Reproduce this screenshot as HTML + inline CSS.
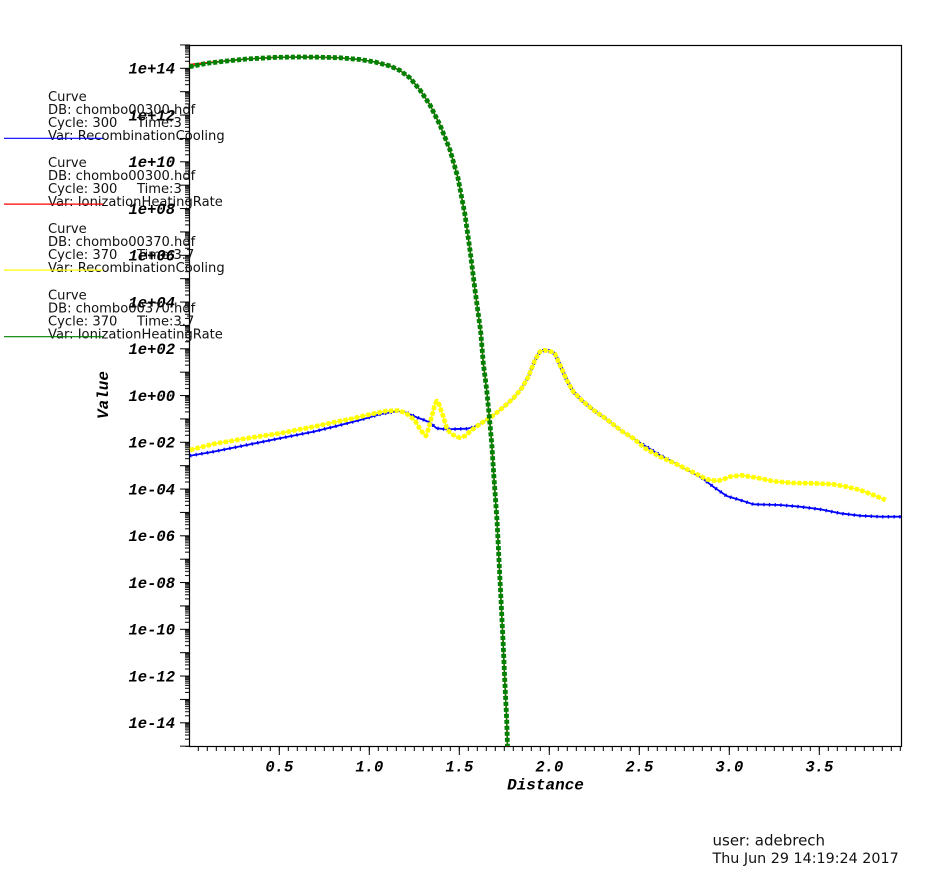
<!DOCTYPE html>
<html>
<head>
<meta charset="utf-8">
<style>
html,body{margin:0;padding:0;background:#fff;}
body{width:950px;height:878px;overflow:hidden;}
svg{display:block;}
.mono{font-family:"Liberation Mono","Courier New",monospace;font-weight:bold;font-style:italic;font-size:15.5px;fill:#000;}
.leg{font-family:"DejaVu Sans","Liberation Sans",sans-serif;font-size:13.1px;fill:#111;}
.info{font-family:"DejaVu Sans","Liberation Sans",sans-serif;font-size:14.3px;fill:#111;}
</style>
</head>
<body>
<svg width="950" height="878" viewBox="0 0 950 878" xmlns="http://www.w3.org/2000/svg">
<defs>
  <clipPath id="plot"><rect x="189.5" y="45.5" width="712" height="701"/></clipPath>
  <pattern id="yt" x="180" y="43.925" width="10" height="23.375" patternUnits="userSpaceOnUse">
    <rect x="0" y="0.5" width="10" height="1" fill="#000"/>
    <rect x="5" y="16.838" width="5" height="1" fill="#000"/>
    <rect x="5" y="12.722" width="5" height="1" fill="#000"/>
    <rect x="5" y="9.802" width="5" height="1" fill="#000"/>
    <rect x="5" y="7.537" width="5" height="1" fill="#000"/>
    <rect x="5" y="5.686" width="5" height="1" fill="#000"/>
    <rect x="5" y="4.120" width="5" height="1" fill="#000"/>
    <rect x="5" y="2.765" width="5" height="1" fill="#000"/>
    <rect x="5" y="1.570" width="5" height="1" fill="#000"/>
  </pattern>
  <pattern id="xtm" x="188.8" y="746" width="9" height="12" patternUnits="userSpaceOnUse">
    <rect x="0" y="0" width="1" height="5" fill="#000"/>
  </pattern>
  <pattern id="xtM" x="188.8" y="746" width="90" height="12" patternUnits="userSpaceOnUse">
    <rect x="0" y="0" width="1" height="9" fill="#000"/>
  </pattern>
</defs>

<!-- ticks -->
<rect x="180" y="44.4" width="10" height="702.5" fill="url(#yt)"/>
<rect x="192" y="746" width="710" height="12" fill="url(#xtm)"/>
<rect x="192" y="746" width="710" height="12" fill="url(#xtM)"/>

<!-- frame -->
<rect x="189.5" y="45.5" width="712" height="701" fill="none" stroke="#000" stroke-width="1.2"/>

<!-- Y labels -->
<g class="mono" text-anchor="end">
  <text x="175" y="73.6">1e+14</text>
  <text x="175" y="120.35">1e+12</text>
  <text x="175" y="167.1">1e+10</text>
  <text x="175" y="213.85">1e+08</text>
  <text x="175" y="260.6">1e+06</text>
  <text x="175" y="307.35">1e+04</text>
  <text x="175" y="354.1">1e+02</text>
  <text x="175" y="400.85">1e+00</text>
  <text x="175" y="447.6">1e-02</text>
  <text x="175" y="494.35">1e-04</text>
  <text x="175" y="541.1">1e-06</text>
  <text x="175" y="587.85">1e-08</text>
  <text x="175" y="634.6">1e-10</text>
  <text x="175" y="681.35">1e-12</text>
  <text x="175" y="728.1">1e-14</text>
</g>
<!-- X labels -->
<g class="mono" text-anchor="middle">
  <text x="279.3" y="771.5">0.5</text>
  <text x="369.3" y="771.5">1.0</text>
  <text x="459.3" y="771.5">1.5</text>
  <text x="549.3" y="771.5">2.0</text>
  <text x="639.3" y="771.5">2.5</text>
  <text x="729.3" y="771.5">3.0</text>
  <text x="819.3" y="771.5">3.5</text>
  <text x="545.5" y="789.5" style="font-size:16px">Distance</text>
  <text transform="translate(108,395) rotate(-90)" x="0" y="0" style="font-size:16px">Value</text>
</g>

<!-- curves -->
<g clip-path="url(#plot)" fill="none" stroke-linejoin="round">
  <!-- blue: RecombinationCooling 300 -->
  <polyline stroke="#0000ff" stroke-width="1.8" points="190,455.7 213.3,451.7 246.7,445 280,438.3 313.3,431.7 336.7,426 360,420 380,414.3 398,411 406.7,412.7 416.7,417.3 424,420 430,422.7 436.7,428.3 446.7,429.3 466.7,428.7 473.3,427.3 480,424 491.7,416.7 503.3,407.3 513.3,398.3 521.7,388.3 528.3,376.7 535,360 540,351.7 544,350.3 548.3,350.7 552,352 555,354 560,365 566.7,380 573.3,391.7 583.3,401.7 593.3,410 606.7,419.3 621.7,431 640,442.7 660,455 678.3,465 700,476.7 713.3,486.7 726.7,496 740,500 753.3,504.3 780,505 800,506.7 820,509.3 840,513.3 860,515.7 880,516.7 901,516.7"/>
  <polyline stroke="#0000ff" stroke-width="3.5" stroke-dasharray="1.3 4.4" points="190,455.7 213.3,451.7 246.7,445 280,438.3 313.3,431.7 336.7,426 360,420 380,414.3 398,411 406.7,412.7 416.7,417.3 424,420 430,422.7 436.7,428.3 446.7,429.3 466.7,428.7 473.3,427.3 480,424 491.7,416.7 503.3,407.3 513.3,398.3 521.7,388.3 528.3,376.7 535,360 540,351.7 544,350.3 548.3,350.7 552,352 555,354 560,365 566.7,380 573.3,391.7 583.3,401.7 593.3,410 606.7,419.3 621.7,431 640,442.7 660,455 678.3,465 700,476.7 713.3,486.7 726.7,496 740,500 753.3,504.3 780,505 800,506.7 820,509.3 840,513.3 860,515.7 880,516.7 901,516.7"/>

  <!-- red: IonizationHeatingRate 300 -->
  <polyline stroke="#ff0000" stroke-width="1.6" points="189.5,64.5 206.7,62.8 226.7,60.8 246.7,59 276.7,57.3 300,57 320,57.2 340,57.8 360,59.5 375,62 390,66 400,70.5 410,78 420,90 430,105 440,125 450,150 458,178 465,215 470,250 475,290 480.7,331.7 483.3,363.3 486.7,390 489.3,416.7 491.7,443.3 494,478.3 497,520 499,560 501,600 503,640 505,685 506.7,720 507.5,750"/>

  <!-- yellow: RecombinationCooling 370 -->
  <polyline stroke="#ffff00" stroke-width="1.6" points="190,450 213.3,444 246.7,438.3 280,433.3 313.3,426.7 336.7,421.7 353,418.5 363,416 375,413.3 386.7,411 398.3,410.5 405,412.7 410,416 415,420.7 420,429 424,434.5 426,436 428.3,429.3 431.7,416.7 434.5,406 436.7,401 439,404 441,410 443.3,416.7 446.7,428.3 450,432.5 453.3,435 459.3,437.7 465,436 471.7,430 480,424 491.7,416.7 503.3,407.3 513.3,398.3 521.7,388.3 528.3,376.7 535,360 540,351.7 544,350.3 548.3,350.7 552,352 555,354 560,365 566.7,380 573.3,391.7 583.3,401.7 593.3,410 606.7,419.3 621.7,431 633.3,438.3 645,448.3 660,456.7 678.3,465 695,473.3 706.7,479.3 716.7,481 723,479.5 730,476.7 741.7,475.3 756.7,477.7 773.3,481.3 793.3,483 813.3,483.3 833.3,484.3 846.7,486.7 860,490 873.3,495 885.7,500"/>
  <polyline stroke="#ffff00" stroke-width="4.6" stroke-dasharray="4 1.8" points="190,450 213.3,444 246.7,438.3 280,433.3 313.3,426.7 336.7,421.7 353,418.5 363,416 375,413.3 386.7,411 398.3,410.5 405,412.7 410,416 415,420.7 420,429 424,434.5 426,436 428.3,429.3 431.7,416.7 434.5,406 436.7,401 439,404 441,410 443.3,416.7 446.7,428.3 450,432.5 453.3,435 459.3,437.7 465,436 471.7,430 480,424 491.7,416.7 503.3,407.3 513.3,398.3 521.7,388.3 528.3,376.7 535,360 540,351.7 544,350.3 548.3,350.7 552,352 555,354 560,365 566.7,380 573.3,391.7 583.3,401.7 593.3,410 606.7,419.3 621.7,431 633.3,438.3 645,448.3 660,456.7 678.3,465 695,473.3 706.7,479.3 716.7,481 723,479.5 730,476.7 741.7,475.3 756.7,477.7 773.3,481.3 793.3,483 813.3,483.3 833.3,484.3 846.7,486.7 860,490 873.3,495 885.7,500"/>

  <!-- green: IonizationHeatingRate 370 -->
  <polyline stroke="#008000" stroke-width="1.4" points="189.5,66.7 206.7,63.3 226.7,61 246.7,59 276.7,57.3 300,57 320,57.2 340,57.8 360,59.5 375,62 390,66 400,70.5 410,78 420,90 430,105 440,125 450,150 458,178 465,215 470,250 475,290 480.7,331.7 483.3,363.3 486.7,390 489.3,416.7 491.7,443.3 494,478.3 497,520 499,560 501,600 503,640 505,685 506.7,720 507.5,746"/>
  <polyline stroke="#008000" stroke-width="4.8" stroke-dasharray="4 2" points="189.5,66.7 206.7,63.3 226.7,61 246.7,59 276.7,57.3 300,57 320,57.2 340,57.8 360,59.5 375,62 390,66 400,70.5 410,78 420,90 430,105 440,125 450,150 458,178 465,215 470,250 475,290 480.7,331.7 483.3,363.3 486.7,390 489.3,416.7 491.7,443.3 494,478.3 497,520 499,560 501,600 503,640 505,685 506.7,720 507.5,746"/>
</g>

<!-- legend -->
<g class="leg">
  <text x="48" y="101">Curve</text>
  <text x="48" y="114">DB: chombo00300.hdf</text>
  <text x="48" y="127">Cycle: 300</text>
  <text x="137" y="127">Time:3</text>
  <text x="48" y="140">Var: RecombinationCooling</text>

  <text x="48" y="166.8">Curve</text>
  <text x="48" y="179.8">DB: chombo00300.hdf</text>
  <text x="48" y="192.8">Cycle: 300</text>
  <text x="137" y="192.8">Time:3</text>
  <text x="48" y="205.8">Var: IonizationHeatingRate</text>

  <text x="48" y="232.8">Curve</text>
  <text x="48" y="245.8">DB: chombo00370.hdf</text>
  <text x="48" y="258.8">Cycle: 370</text>
  <text x="137" y="258.8">Time:3.7</text>
  <text x="48" y="271.8">Var: RecombinationCooling</text>

  <text x="48" y="299.3">Curve</text>
  <text x="48" y="312.3">DB: chombo00370.hdf</text>
  <text x="48" y="325.3">Cycle: 370</text>
  <text x="137" y="325.3">Time:3.7</text>
  <text x="48" y="338.3">Var: IonizationHeatingRate</text>
</g>
<g stroke-width="1.2">
  <line x1="4" y1="138.3" x2="103" y2="138.3" stroke="#0000ff"/>
  <line x1="4" y1="204.1" x2="103" y2="204.1" stroke="#ff0000"/>
  <line x1="4" y1="270.1" x2="103" y2="270.1" stroke="#ffff00"/>
  <line x1="4" y1="336.7" x2="103" y2="336.7" stroke="#008000"/>
</g>

<!-- user info -->
<g class="info">
  <text x="712.5" y="845.7" style="font-size:15px">user: adebrech</text>
  <text x="712.5" y="863">Thu Jun 29 14:19:24 2017</text>
</g>
</svg>
</body>
</html>
